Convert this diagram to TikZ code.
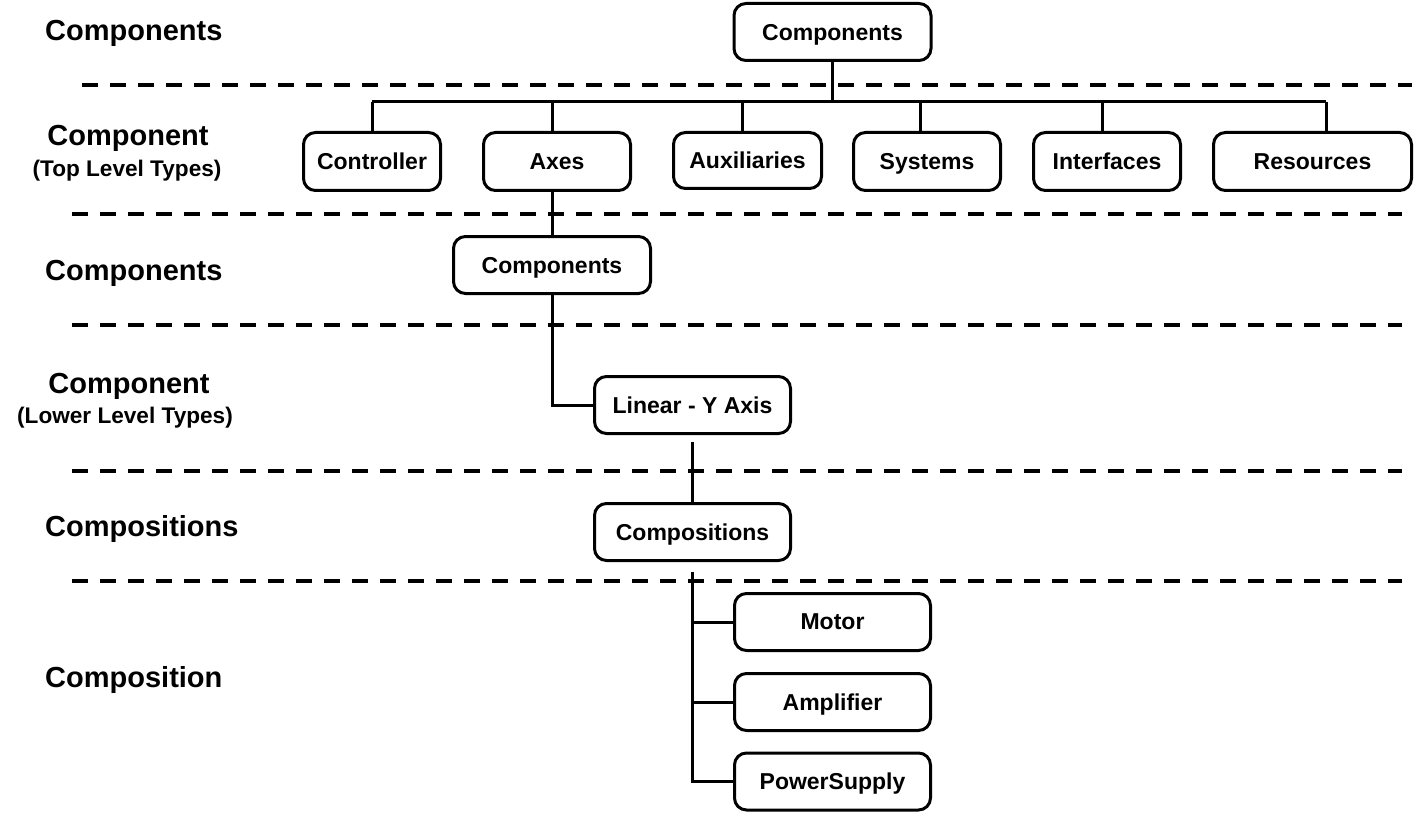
\documentclass[tikz,border=0pt]{standalone}
\usepackage{fontspec}
\setmainfont{Liberation Sans}
\usetikzlibrary{calc}
\tikzset{
  box/.style={draw, line width=3pt, rounded corners=12pt, minimum height=57pt,
    inner sep=0pt, text depth=0pt, font=\bfseries\fontsize{23}{27}\selectfont},
  big/.style={inner sep=0pt, text depth=0pt, font=\bfseries\fontsize{29}{34}\selectfont},
  sub/.style={inner sep=0pt, text depth=0pt, font=\bfseries\fontsize{22.6}{27}\selectfont},
  sep/.style={line width=4pt, dash pattern=on 16pt off 12pt},
  conn/.style={line width=3pt}
}
\begin{document}
\begin{tikzpicture}[x=1pt,y=-1pt]
\useasboundingbox (0,0) rectangle (1415,813);
% separator lines
\draw[sep] (82,85) -- (1412,85);
\draw[sep] (72,214) -- (1402,214);
\draw[sep] (72,325) -- (1402,325);
\draw[sep] (72,471) -- (1402,471);
\draw[sep] (72,581) -- (1402,581);
% left labels
\node[big, anchor=west] (l1) at (45,30) {Components};
\node[big] (l2a) at (128,135) {Component};
\node[sub] (l2b) at (127,168) {(Top Level Types)};
\node[big, anchor=west] (l3) at (45,270) {Components};
\node[big] (l4a) at (129,383) {Component};
\node[sub] (l4b) at (125,415) {(Lower Level Types)};
\node[big, anchor=west] (l5) at (45,526) {Compositions};
\node[big, anchor=west] (l6) at (45,677) {Composition};
% boxes
\node[box, minimum width=197pt] (top) at (832.5,32) {Components};
\node[box, minimum width=137pt, minimum height=58pt] (ctrl) at (372,161.5) {Controller};
\node[box, minimum width=147pt, minimum height=58pt] (axes) at (557,161.5) {Axes};
\node[box, minimum width=148pt, minimum height=56pt] (aux) at (747.5,160.5) {Auxiliaries};
\node[box, minimum width=147pt, minimum height=58pt] (sys) at (927,161.5) {Systems};
\node[box, minimum width=147pt, minimum height=58pt] (intf) at (1107,161.5) {Interfaces};
\node[box, minimum width=198pt, minimum height=58pt] (res) at (1312.5,161.5) {Resources};
\node[box, minimum width=197pt] (comp) at (552,265) {Components};
\node[box, minimum width=196pt] (lin) at (692.5,405) {Linear - Y Axis};
\node[box, minimum width=196pt] (compo) at (692.5,532) {Compositions};
\node[box, minimum width=196pt] (motor) at (832.5,622) {Motor};
\node[box, minimum width=196pt] (amp) at (832.5,702) {Amplifier};
\node[box, minimum width=196pt] (psu) at (832.5,781.5) {PowerSupply};
% bus
\coordinate (tCtrl) at (372,102);
\coordinate (tAxes) at (552,102);
\coordinate (tAux) at (742,102);
\coordinate (tSys) at (920,102);
\coordinate (tIntf) at (1102,102);
\coordinate (tRes) at (1326,102);
\draw[conn] (tCtrl) -- (tRes);
\draw[conn] (top.south) -- (top.south |- tCtrl);
\draw[conn] (tCtrl) -- (tCtrl |- ctrl.north);
\draw[conn] (tAxes) -- (tAxes |- axes.north);
\draw[conn] (tAux) -- (tAux |- aux.north);
\draw[conn] (tSys) -- (tSys |- sys.north);
\draw[conn] (tIntf) -- (tIntf |- intf.north);
\draw[conn] (tRes) -- (tRes |- res.north);
% lower tree
\draw[conn] (axes.south -| comp.north) -- (comp.north);
\draw[conn] (comp.south) |- (lin.west);
\draw[conn, shorten <=7pt] (lin.south) -- (compo.north);
\draw[conn, shorten <=10pt] (compo.south) |- (psu.west);
\draw[conn] (compo.south |- motor.west) -- (motor.west);
\draw[conn] (compo.south |- amp.west) -- (amp.west);
\end{tikzpicture}
\end{document}
